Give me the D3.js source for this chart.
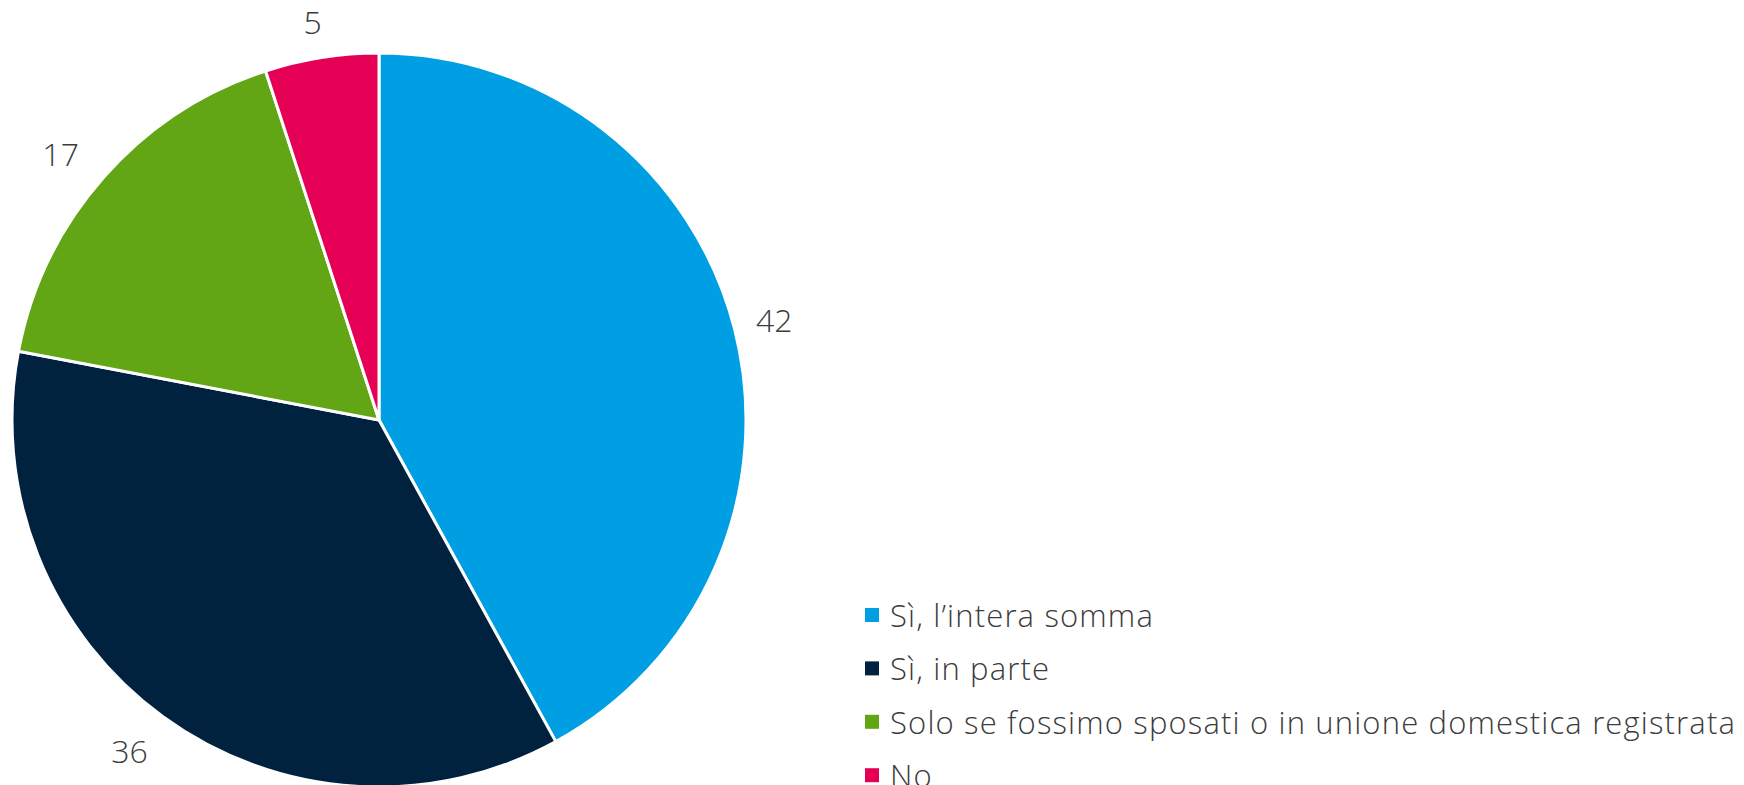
<!DOCTYPE html>
<html>
<head>
<meta charset="utf-8">
<script src="https://cdn.jsdelivr.net/npm/d3@7"></script>
<style>
  html, body { margin: 0; padding: 0; background: #fff; }
  svg { display: block; }
  text { font-family: "Open Sans", "Lato", sans-serif; font-weight: 300; fill: #3c3c3c; }
</style>
</head>
<body>
<svg id="chart" width="1744" height="785"></svg>
<script>
// Answer categories and their shares (%)
const categories = [
  "Sì, l’intera somma",
  "Sì, in parte",
  "Solo se fossimo sposati o in unione domestica registrata",
  "No"
];
const values = [42, 36, 17, 5];
const colors = ["#009FE3", "#00223F", "#62A615", "#E50056"];

const width = 1744, height = 785;
const cx = 379, cy = 420, radius = 367;

const svg = d3.select("#chart");

const pie = d3.pie().sort(null).value(d => d.value);
const data = pie(categories.map((c, i) => ({ name: c, value: values[i] })));

const color = d3.scaleOrdinal().domain(categories).range(colors);

const arc = d3.arc().innerRadius(0).outerRadius(radius);
const labelR = radius * 1.112;
const labelArc = d3.arc().innerRadius(labelR).outerRadius(labelR);

const g = svg.append("g").attr("transform", `translate(${cx},${cy})`);

g.selectAll("path.slice")
  .data(data)
  .join("path")
  .attr("class", "slice")
  .attr("d", arc)
  .attr("fill", d => color(d.data.name))
  .attr("stroke", "#fff")
  .attr("stroke-width", 3)
  .attr("stroke-linejoin", "round");

g.selectAll("text.value")
  .data(data)
  .join("text")
  .attr("class", "value")
  .attr("transform", d => {
    const [x, y] = labelArc.centroid(d);
    // left-half labels sit a little further out; top labels a touch lower
    return `translate(${x < 0 ? x * 1.04 : x},${y < 0 ? y * 0.988 : y})`;
  })
  .attr("text-anchor", "middle")
  .attr("dominant-baseline", "central")
  .style("font-size", "32px")
  .text(d => d.data.value);

// Legend
const legendX = 865, legendY = 615, rowH = 53.4, legendWidth = 846;
const legend = svg.append("g").attr("transform", `translate(${legendX},${legendY})`);
const items = legend.selectAll("g.item")
  .data(categories)
  .join("g")
  .attr("class", "item")
  .attr("transform", (d, i) => `translate(0,${i * rowH})`);

items.append("rect")
  .attr("x", 0).attr("y", -7)
  .attr("width", 14).attr("height", 14)
  .attr("fill", d => color(d));

const labels = items.append("text")
  .attr("x", 25)
  .attr("y", 0)
  .attr("dominant-baseline", "central")
  .style("font-size", "31px")
  .text(d => d);

// widen tracking so the longest entry spans the legend width
const longest = d3.max(labels.nodes(), n => n.getComputedTextLength());
const longestChars = d3.max(categories, c => c.length);
const spacing = Math.max(0, (legendWidth - longest) / longestChars);
labels.style("letter-spacing", spacing + "px");
</script>
</body>
</html>
